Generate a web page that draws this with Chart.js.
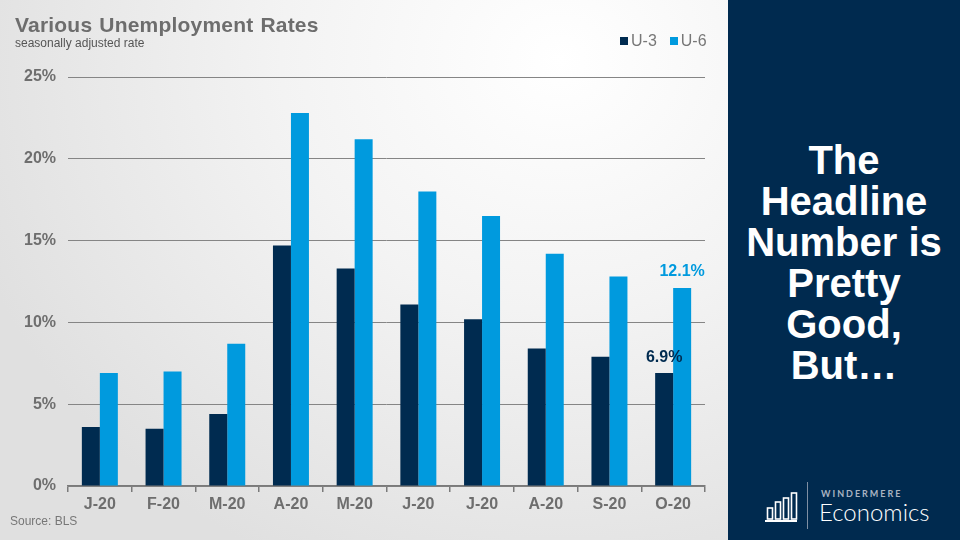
<!DOCTYPE html>
<html>
<head>
<meta charset="utf-8">
<script src="https://cdn.jsdelivr.net/npm/chart.js@4.4.1/dist/chart.umd.min.js"></script>
<style>
  html, body { margin: 0; padding: 0; }
  body { width: 960px; height: 540px; overflow: hidden; position: relative;
         font-family: "Liberation Sans", Arial, sans-serif; }
  #left { position: absolute; left: 0; top: 0; width: 728px; height: 540px;
          background: radial-gradient(ellipse 620px 560px at 560px 60px, #ffffff 0%, #f3f3f3 45%, #e0e0e0 100%); }
  #chartBox { position: absolute; left: 0; top: 0; width: 728px; height: 540px; }
  #title { position: absolute; left: 15px; top: 13px; font-size: 21px; font-weight: bold; color: #6d6d6d; letter-spacing: 0.2px; word-spacing: 1px; }
  #subtitle { position: absolute; left: 15px; top: 36px; font-size: 12px; color: #555; }
  #source { position: absolute; left: 10px; top: 514px; font-size: 12px; color: #777; }
  #legend { position: absolute; left: 620px; top: 32px; font-size: 16px; color: #777; white-space: nowrap; }
  #legend span.sw { display: inline-block; width: 8px; height: 8px; margin-right: 3px; vertical-align: 1px; }
  #legend span.it { margin-right: 13px; }
  #panel { position: absolute; left: 728px; top: 0; width: 232px; height: 540px; background: #002a4f; }
  #headline { position: absolute; left: 0; top: 140px; width: 232px; text-align: center; color: #fff;
              font-size: 40px; font-weight: bold; line-height: 41px; }
  #divider { position: absolute; left: 79px; top: 482px; width: 1px; height: 47px; background: #7f8fa3; }
  #wm { position: absolute; left: 93px; top: 488px; font-family: Lato, sans-serif; font-size: 9px; font-weight: bold;
        letter-spacing: 2px; color: #a9b4c2; }
  #econ { position: absolute; left: 91px; top: 497px; font-family: Lato, sans-serif; font-size: 24px; font-weight: 300; color: #fff; }
  #icon { position: absolute; left: 37px; top: 490px; }
</style>
</head>
<body>
<div id="left">
  <div id="chartBox"><canvas id="chart" width="728" height="540"></canvas></div>
  <div id="title">Various Unemployment Rates</div>
  <div id="subtitle">seasonally adjusted rate</div>
  <div id="source">Source: BLS</div>
  <div id="legend"><span class="it"><span class="sw" style="background:#002b50"></span>U-3</span><span><span class="sw" style="background:#009ade"></span>U-6</span></div>
</div>
<div id="panel">
  <div id="headline">The<br>Headline<br>Number is<br>Pretty<br>Good,<br>But…</div>
  <svg id="icon" width="34" height="34" viewBox="0 0 34 34">
    <rect x="2.5" y="18" width="5" height="11" fill="none" stroke="#fff" stroke-width="1.6"/>
    <rect x="10.5" y="12" width="5" height="17" fill="none" stroke="#fff" stroke-width="1.6"/>
    <rect x="18.5" y="8" width="5" height="21" fill="none" stroke="#fff" stroke-width="1.6"/>
    <rect x="26.5" y="3" width="5" height="26" fill="none" stroke="#fff" stroke-width="1.6"/>
    <rect x="0" y="30" width="32" height="2" fill="#fff"/>
  </svg>
  <div id="divider"></div>
  <div id="wm">WINDERMERE</div>
  <div id="econ">Economics</div>
</div>
<script>
const categories = ['J-20', 'F-20', 'M-20', 'A-20', 'M-20', 'J-20', 'J-20', 'A-20', 'S-20', 'O-20'];
const u3 = [3.6, 3.5, 4.4, 14.7, 13.3, 11.1, 10.2, 8.4, 7.9, 6.9];
const u6 = [6.9, 7.0, 8.7, 22.8, 21.2, 18.0, 16.5, 14.2, 12.8, 12.1];
const yTicks = [0, 5, 10, 15, 20, 25];
const labelIndex = 9; // only the latest month gets value labels

const navy = '#002b50';
const blue = '#009ade';

// value labels above the last pair of bars
const lastLabels = {
    id: 'lastLabels',
    afterDatasetsDraw(chart) {
        const ctx = chart.ctx;
        ctx.save();
        ctx.font = 'bold 16px "Liberation Sans", Arial, sans-serif';
        ctx.textAlign = 'center';
        ctx.textBaseline = 'bottom';
        chart.data.datasets.forEach((ds, i) => {
            const bar = chart.getDatasetMeta(i).data[labelIndex];
            ctx.fillStyle = ds.backgroundColor;
            ctx.fillText(ds.data[labelIndex].toFixed(1) + '%', bar.x, bar.y - 8);
        });
        ctx.restore();
    }
};

const ctx = document.getElementById('chart').getContext('2d');
new Chart(ctx, {
    type: 'bar',
    data: {
        labels: categories,
        datasets: [
            { label: 'U-3', data: u3, backgroundColor: navy, categoryPercentage: 0.565, barPercentage: 1.0 },
            { label: 'U-6', data: u6, backgroundColor: blue, categoryPercentage: 0.565, barPercentage: 1.0 }
        ]
    },
    options: {
        responsive: false,
        animation: false,
        layout: { padding: { top: 77, right: 23, bottom: 0, left: 0 } },
        plugins: {
            legend: { display: false },
            tooltip: { enabled: false }
        },
        scales: {
            x: {
                offset: true,
                grid: { display: true, offset: true, drawOnChartArea: false, drawTicks: true, tickLength: 6, color: '#7a7a7a', lineWidth: 1.5 },
                border: { display: true, color: '#7a7a7a', width: 1.5 },
                ticks: { color: '#6e6e6e', padding: 3, font: { family: '"Liberation Sans", Arial, sans-serif', size: 16, weight: 'bold' } },
                afterFit(scale) { scale.height = 54; }
            },
            y: {
                min: 0,
                max: 25,
                afterBuildTicks(scale) { scale.ticks = yTicks.map(v => ({ value: v })); },
                grid: { color: '#858585', lineWidth: 1, drawTicks: false },
                border: { display: false },
                ticks: {
                    padding: 12,
                    color: '#6e6e6e',
                    font: { family: '"Liberation Sans", Arial, sans-serif', size: 16, weight: 'bold' },
                    callback: v => v + '%'
                },
                afterFit(scale) { scale.width = 68; }
            }
        }
    },
    plugins: [lastLabels]
});
</script>
</body>
</html>
